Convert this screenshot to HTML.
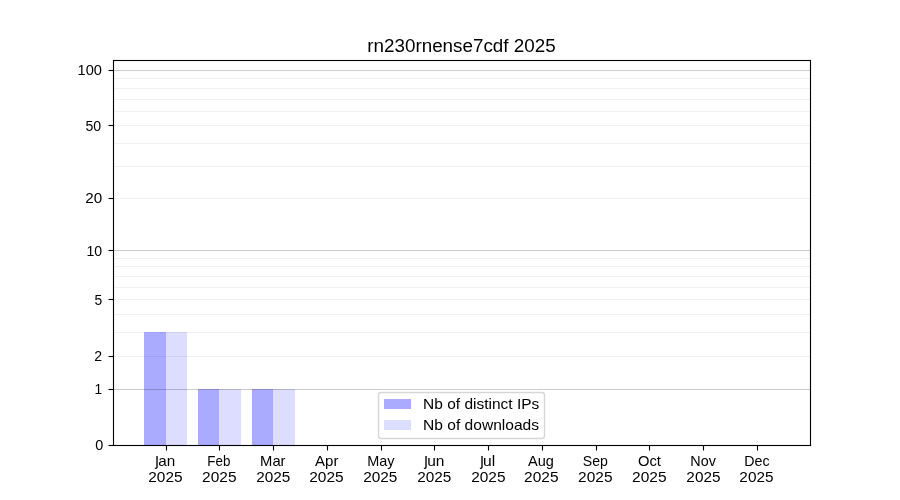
<!DOCTYPE html>
<html><head><meta charset="utf-8"><title>rn230rnense7cdf 2025</title>
<style>html,body{margin:0;padding:0;background:#fff;}body{width:900px;height:500px;overflow:hidden;}svg{display:block;will-change:transform;}text{font-family:"Liberation Sans",sans-serif;fill:#000;}</style>
</head><body>
<svg width="900" height="500" viewBox="0 0 900 500">
<rect x="0" y="0" width="900" height="500" fill="#ffffff"/>
<g shape-rendering="crispEdges">
<rect x="144" y="332" width="22" height="113" fill="#aaaaff"/>
<rect x="166" y="332" width="21" height="113" fill="#ddddff"/>
<rect x="198" y="389" width="21" height="56" fill="#aaaaff"/>
<rect x="219" y="389" width="22" height="56" fill="#ddddff"/>
<rect x="252" y="389" width="21" height="56" fill="#aaaaff"/>
<rect x="273" y="389" width="22" height="56" fill="#ddddff"/>
</g>
<g shape-rendering="crispEdges">
<rect x="114" y="389" width="696" height="1" fill="#000" fill-opacity="0.2"/>
<rect x="114" y="250" width="696" height="1" fill="#000" fill-opacity="0.2"/>
<rect x="114" y="70" width="696" height="1" fill="#000" fill-opacity="0.2"/>
<rect x="114" y="356" width="696" height="1" fill="#000" fill-opacity="0.06"/>
<rect x="114" y="332" width="696" height="1" fill="#000" fill-opacity="0.06"/>
<rect x="114" y="314" width="696" height="1" fill="#000" fill-opacity="0.06"/>
<rect x="114" y="299" width="696" height="1" fill="#000" fill-opacity="0.06"/>
<rect x="114" y="287" width="696" height="1" fill="#000" fill-opacity="0.06"/>
<rect x="114" y="276" width="696" height="1" fill="#000" fill-opacity="0.06"/>
<rect x="114" y="266" width="696" height="1" fill="#000" fill-opacity="0.06"/>
<rect x="114" y="258" width="696" height="1" fill="#000" fill-opacity="0.06"/>
<rect x="114" y="198" width="696" height="1" fill="#000" fill-opacity="0.06"/>
<rect x="114" y="166" width="696" height="1" fill="#000" fill-opacity="0.06"/>
<rect x="114" y="143" width="696" height="1" fill="#000" fill-opacity="0.06"/>
<rect x="114" y="125" width="696" height="1" fill="#000" fill-opacity="0.06"/>
<rect x="114" y="111" width="696" height="1" fill="#000" fill-opacity="0.06"/>
<rect x="114" y="99" width="696" height="1" fill="#000" fill-opacity="0.06"/>
<rect x="114" y="88" width="696" height="1" fill="#000" fill-opacity="0.06"/>
<rect x="114" y="78" width="696" height="1" fill="#000" fill-opacity="0.06"/>
</g>
<g stroke="#000" stroke-width="1.111" fill="none" stroke-linecap="square">
<line x1="113.5" y1="60.5" x2="113.5" y2="445.5"/>
<line x1="810.5" y1="60.5" x2="810.5" y2="445.5"/>
<line x1="113.5" y1="60.5" x2="810.5" y2="60.5"/>
<line x1="113.5" y1="445.5" x2="810.5" y2="445.5"/>
</g>
<g shape-rendering="crispEdges" fill="#000" fill-opacity="0.055">
<rect x="113" y="59" width="698" height="1"/>
<rect x="113" y="61" width="698" height="1"/>
<rect x="113" y="444" width="698" height="1"/>
<rect x="113" y="446" width="698" height="1"/>
</g>
<g stroke="#000" stroke-width="1.111" fill="none">
<line x1="108.5" y1="445.5" x2="113.5" y2="445.5"/>
<line x1="108.5" y1="389.5" x2="113.5" y2="389.5"/>
<line x1="108.5" y1="356.5" x2="113.5" y2="356.5"/>
<line x1="108.5" y1="299.5" x2="113.5" y2="299.5"/>
<line x1="108.5" y1="250.5" x2="113.5" y2="250.5"/>
<line x1="108.5" y1="198.5" x2="113.5" y2="198.5"/>
<line x1="108.5" y1="125.5" x2="113.5" y2="125.5"/>
<line x1="108.5" y1="70.5" x2="113.5" y2="70.5"/>
<line x1="166.5" y1="445.5" x2="166.5" y2="450.5"/>
<line x1="219.5" y1="445.5" x2="219.5" y2="450.5"/>
<line x1="273.5" y1="445.5" x2="273.5" y2="450.5"/>
<line x1="327.5" y1="445.5" x2="327.5" y2="450.5"/>
<line x1="381.5" y1="445.5" x2="381.5" y2="450.5"/>
<line x1="434.5" y1="445.5" x2="434.5" y2="450.5"/>
<line x1="488.5" y1="445.5" x2="488.5" y2="450.5"/>
<line x1="542.5" y1="445.5" x2="542.5" y2="450.5"/>
<line x1="596.5" y1="445.5" x2="596.5" y2="450.5"/>
<line x1="649.5" y1="445.5" x2="649.5" y2="450.5"/>
<line x1="703.5" y1="445.5" x2="703.5" y2="450.5"/>
<line x1="757.5" y1="445.5" x2="757.5" y2="450.5"/>
</g>
<text x="95.36" y="450.30" font-size="14.2" textLength="8.04" lengthAdjust="spacingAndGlyphs">0</text>
<text x="94.56" y="394.30" font-size="14.2" textLength="7.65" lengthAdjust="spacingAndGlyphs">1</text>
<text x="94.24" y="361.30" font-size="14.2" textLength="7.85" lengthAdjust="spacingAndGlyphs">2</text>
<text x="94.39" y="305.30" font-size="14.2" textLength="7.71" lengthAdjust="spacingAndGlyphs">5</text>
<text x="86.54" y="256.30" font-size="14.2" textLength="15.67" lengthAdjust="spacingAndGlyphs">10</text>
<text x="85.25" y="203.30" font-size="14.2" textLength="16.94" lengthAdjust="spacingAndGlyphs">20</text>
<text x="85.52" y="131.30" font-size="14.2" textLength="15.67" lengthAdjust="spacingAndGlyphs">50</text>
<text x="77.55" y="75.30" font-size="14.2" textLength="24.39" lengthAdjust="spacingAndGlyphs">100</text>
<text transform="translate(155.27,465.15) rotate(0.03) scale(1.1200,1.2450)" x="0" y="0" font-size="14.2">&#567;</text>
<text x="158.33" y="466.00" font-size="14.2" textLength="16.99" lengthAdjust="spacingAndGlyphs">an</text>
<text x="148.27" y="481.50" font-size="14.2" textLength="34.26" lengthAdjust="spacingAndGlyphs">2025</text>
<text x="207.34" y="466.00" font-size="14.2" textLength="22.99" lengthAdjust="spacingAndGlyphs">Feb</text>
<text x="202.13" y="481.50" font-size="14.2" textLength="34.36" lengthAdjust="spacingAndGlyphs">2025</text>
<text x="260.07" y="466.00" font-size="14.2" textLength="25.48" lengthAdjust="spacingAndGlyphs">Mar</text>
<text x="256.31" y="481.50" font-size="14.2" textLength="34.09" lengthAdjust="spacingAndGlyphs">2025</text>
<text x="315.09" y="466.00" font-size="14.2" textLength="23.38" lengthAdjust="spacingAndGlyphs">Apr</text>
<text x="309.16" y="481.50" font-size="14.2" textLength="34.44" lengthAdjust="spacingAndGlyphs">2025</text>
<text x="367.23" y="466.00" font-size="14.2" textLength="27.31" lengthAdjust="spacingAndGlyphs">May</text>
<text x="363.20" y="481.50" font-size="14.2" textLength="34.18" lengthAdjust="spacingAndGlyphs">2025</text>
<text transform="translate(424.29,465.17) rotate(0.03) scale(1.1200,1.2450)" x="0" y="0" font-size="14.2">&#567;</text>
<text x="427.15" y="466.00" font-size="14.2" textLength="17.24" lengthAdjust="spacingAndGlyphs">un</text>
<text x="417.19" y="481.50" font-size="14.2" textLength="34.20" lengthAdjust="spacingAndGlyphs">2025</text>
<text transform="translate(480.26,465.25) rotate(0.03) scale(1.1200,1.2450)" x="0" y="0" font-size="14.2">&#567;</text>
<text x="483.13" y="466.00" font-size="14.2" textLength="12.15" lengthAdjust="spacingAndGlyphs">ul</text>
<text x="471.21" y="481.50" font-size="14.2" textLength="34.30" lengthAdjust="spacingAndGlyphs">2025</text>
<text x="528.01" y="466.00" font-size="14.2" textLength="25.86" lengthAdjust="spacingAndGlyphs">Aug</text>
<text x="524.13" y="481.50" font-size="14.2" textLength="34.36" lengthAdjust="spacingAndGlyphs">2025</text>
<text x="582.85" y="466.00" font-size="14.2" textLength="25.09" lengthAdjust="spacingAndGlyphs">Sep</text>
<text x="578.13" y="481.50" font-size="14.2" textLength="34.36" lengthAdjust="spacingAndGlyphs">2025</text>
<text x="637.99" y="466.00" font-size="14.2" textLength="22.93" lengthAdjust="spacingAndGlyphs">Oct</text>
<text x="632.13" y="481.50" font-size="14.2" textLength="34.45" lengthAdjust="spacingAndGlyphs">2025</text>
<text x="690.26" y="466.00" font-size="14.2" textLength="25.59" lengthAdjust="spacingAndGlyphs">Nov</text>
<text x="686.37" y="481.50" font-size="14.2" textLength="34.09" lengthAdjust="spacingAndGlyphs">2025</text>
<text x="744.25" y="466.00" font-size="14.2" textLength="25.29" lengthAdjust="spacingAndGlyphs">Dec</text>
<text x="739.37" y="481.50" font-size="14.2" textLength="34.09" lengthAdjust="spacingAndGlyphs">2025</text>
<text x="367.29" y="51.60" font-size="18.0" textLength="188.31" lengthAdjust="spacingAndGlyphs">rn230rnense7cdf 2025</text>
<rect x="378.5" y="392.5" width="166" height="46" rx="2.8" ry="2.8" fill="#fff" fill-opacity="0.8" stroke="#cccccc" stroke-opacity="0.8" stroke-width="1.389"/>
<g shape-rendering="crispEdges">
<rect x="384" y="399" width="27" height="10" fill="#aaaaff"/>
<rect x="384" y="420" width="27" height="10" fill="#ddddff"/>
</g>
<text x="423.14" y="408.90" font-size="14.2" textLength="116.16" lengthAdjust="spacingAndGlyphs">Nb of distinct IPs</text>
<text x="423.06" y="429.70" font-size="14.2" textLength="115.99" lengthAdjust="spacingAndGlyphs">Nb of downloads</text>
</svg>
</body></html>
